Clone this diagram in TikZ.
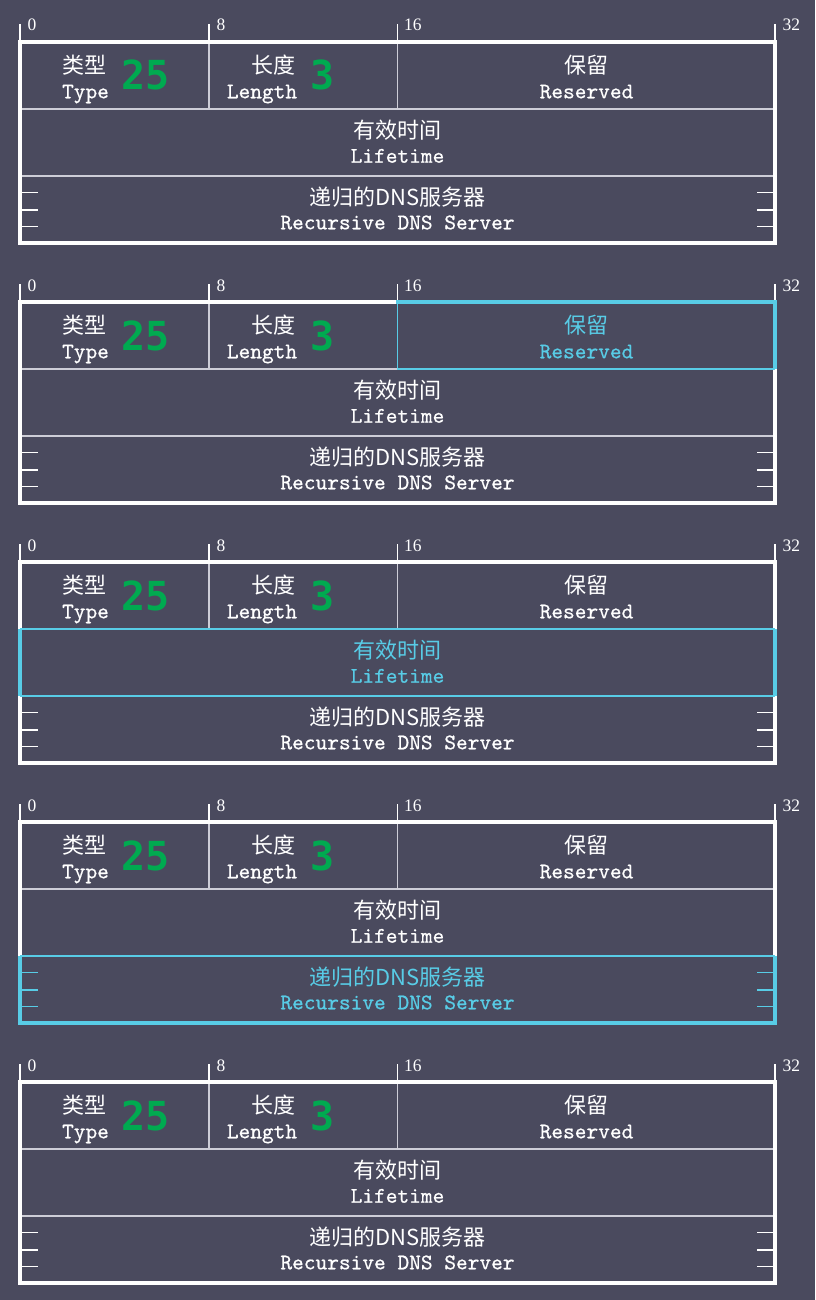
\documentclass[tikz,border=0pt]{standalone}
\usepackage{fontspec}
\setmainfont{Liberation Serif}
\newfontfamily\cjkf{Noto Sans CJK SC}
\newfontfamily\numf{DejaVu Sans Mono}
\newfontfamily\monof{lmmono10-regular.otf}[FakeBold=0.6]
\definecolor{bgc}{RGB}{74,74,94}
\definecolor{hl}{RGB}{88,204,230}
\definecolor{gr}{RGB}{0,170,80}
\definecolor{thinc}{RGB}{205,205,215}
\begin{document}
\begin{tikzpicture}[x=1pt,y=-1pt,line join=miter,
  frame/.style={draw=white,line width=4pt},
  innerline/.style={draw=thinc,line width=1.2pt},
  hthick/.style={draw=hl,line width=4pt},
  hthin/.style={draw=hl,line width=1.2pt},
  sidetick/.style={line width=1.5pt},
  cn/.style={font=\cjkf\fontsize{22}{22}\selectfont,anchor=base,inner sep=0pt},
  en/.style={font=\monof\fontsize{22.3}{23}\selectfont,anchor=base,inner sep=0pt},
  big/.style={font=\numf\bfseries\fontsize{40}{40}\selectfont,text=gr,anchor=base,inner sep=0pt},
  bitlabel/.style={font=\fontsize{17.5}{18}\selectfont,text=white,anchor=base west,inner sep=0pt},
  bittick/.style={draw=white,line width=1.2pt},
]
\useasboundingbox (0,0) rectangle (815,1300);
\fill[bgc] (0,0) rectangle (815,1300);
\foreach \p/\ca/\cb/\cc in {1/white/white/white,2/hl/white/white,3/white/hl/white,4/white/white/hl,5/white/white/white}{
\begin{scope}[shift={(0,{260*(\p-1)})}]
  % bit scale
  \draw[bittick] (20,24) -- (20,42);
  \draw[bittick] (209,24) -- (209,42);
  \draw[bittick] (397.5,24) -- (397.5,42);
  \draw[bittick] (775,24) -- (775,42);
  \node[bitlabel] (b0\p) at (27.5,31) {0};
  \node[bitlabel] (b8\p) at (216.5,31) {8};
  \node[bitlabel] (b16\p) at (404,31) {16};
  \node[bitlabel] (b32\p) at (782.5,31) {32};
  % inner lines
  \draw[innerline] (209,42) -- (209,109);
  \draw[innerline] (397.5,42) -- (397.5,109);
  \draw[innerline] (20,109) -- (775,109);
  \draw[innerline] (20,176) -- (775,176);
  % frame
  \draw[frame] (20,42) rectangle (775,243);
  % side ticks
  \foreach \yy in {192.7,210,226.7}{
    \draw[sidetick,draw=\cc] (20,\yy) -- (38,\yy);
    \draw[sidetick,draw=\cc] (757,\yy) -- (775,\yy);
  }
  % texts
  \node[cn,text=white] (tcn\p) at (84.5,73.4) {类型};
  \node[en,text=white] (ten\p) at (85.5,98.3) {Type};
  \node[big] (tval\p) at (146,90) {25};
  \node[cn,text=white] (lcn\p) at (273,73.4) {长度};
  \node[en,text=white] (len\p) at (262,98.3) {Length};
  \node[big] (lval\p) at (323,90) {3};
  \node[cn,text=\ca] (rcn\p) at (586.5,73.4) {保留};
  \node[en,text=\ca] (ren\p) at (586.5,98.3) {Reserved};
  \node[cn,text=\cb] (fcn\p) at (397.5,138.4) {有效时间};
  \node[en,text=\cb] (fen\p) at (397.5,162.7) {Lifetime};
  \node[cn,text=\cc] (dcn\p) at (397.5,205.9) {递归的DNS服务器};
  \node[en,text=\cc] (den\p) at (397.5,229.3) {Recursive DNS Server};
\end{scope}
}
% panel 2 highlight: Reserved
\begin{scope}[shift={(0,260)}]
  \draw[hthin] (397.5,42) -- (397.5,109) -- (775,109);
  \draw[hthick] (396,42) -- (775,42) -- (775,109);
\end{scope}
% panel 3 highlight: Lifetime
\begin{scope}[shift={(0,520)}]
  \draw[hthin] (20,109) -- (775,109);
  \draw[hthin] (20,176) -- (775,176);
  \draw[hthick] (20,109) -- (20,176);
  \draw[hthick] (775,109) -- (775,176);
\end{scope}
% panel 4 highlight: Recursive DNS Server
\begin{scope}[shift={(0,780)}]
  \draw[hthin] (20,176) -- (775,176);
  \draw[hthick] (20,176) -- (20,243) -- (775,243) -- (775,176);
\end{scope}
\end{tikzpicture}
\end{document}
